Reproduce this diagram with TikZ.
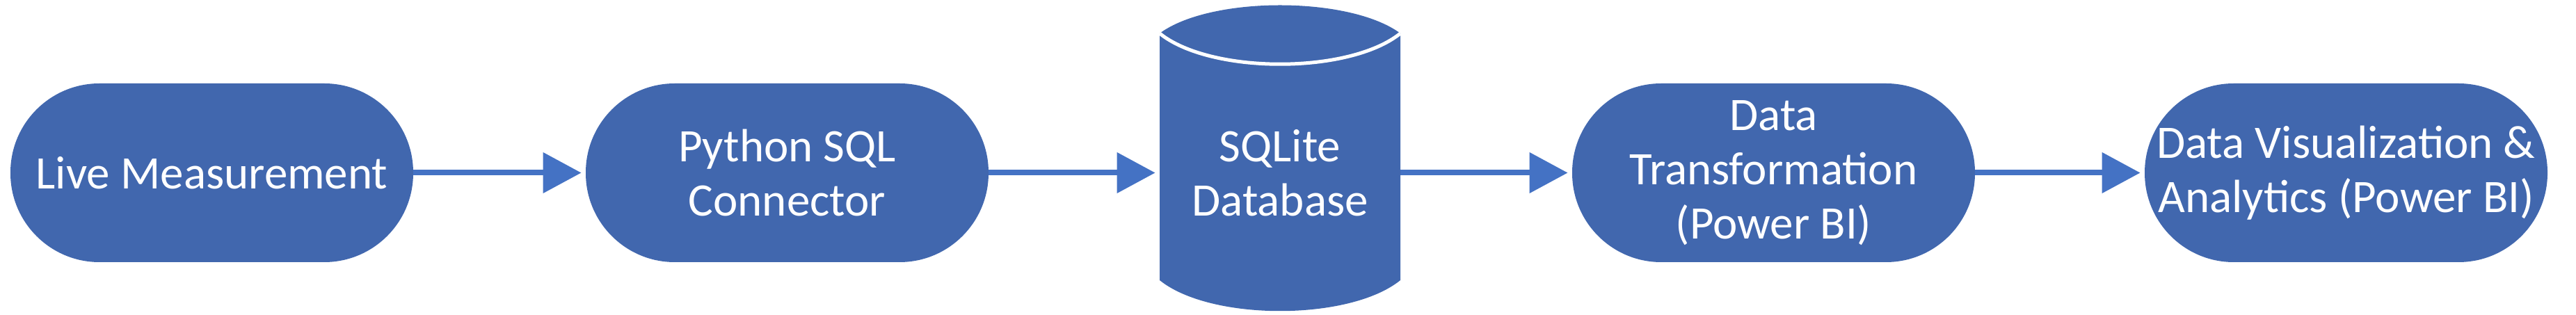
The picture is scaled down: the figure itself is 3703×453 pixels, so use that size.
\documentclass[tikz,border=0pt]{standalone}
\usepackage{fontspec}
\setmainfont{Carlito}
\usetikzlibrary{arrows.meta}
\definecolor{boxblue}{HTML}{4167AE}
\definecolor{arrowblue}{HTML}{4472C4}
\tikzset{
  flowbox/.style={rectangle, rounded corners=64pt, fill=boxblue, text=white,
    minimum width=289.5pt, minimum height=128.5pt, inner sep=0pt, align=center,
    font=\fontsize{33.5}{39}\selectfont},
  dbtext/.style={rectangle, text=white, minimum width=173pt, minimum height=100pt,
    inner sep=0pt, align=center, font=\fontsize{33.5}{39}\selectfont},
  flowarrow/.style={draw=arrowblue, line width=4pt,
    -{Triangle[length=27.5pt,width=28.5pt]}, shorten >=3pt}
}
\begin{document}
\begin{tikzpicture}[x=0.5pt,y=-0.5pt]
\useasboundingbox (0,0) rectangle (3703,453);
% cylinder shape
\fill[boxblue] (1667,48) -- (1667,403) .. controls (1740,462) and (1940,462) .. (2013,403)
  -- (2013,48) .. controls (1940,-6) and (1740,-6) .. cycle;
\draw[white, line width=2.5pt] (1667,48) .. controls (1740,107) and (1940,107) .. (2013,48);
\node[flowbox] (live) at (304.5,248.5) {Live Measurement};
\node[flowbox] (py) at (1131.5,248.5) {Python SQL\\Connector};
\node[dbtext] (db) at (1840,248.5) {SQLite\\Database};
\node[flowbox] (tr) at (2549.5,248.5) {Data\\Transformation\\(Power BI)};
\node[flowbox] (vis) at (3372.5,248.5) {Data Visualization \&\\Analytics (Power BI)};
\draw[flowarrow] (live.east) -- (py.west);
\draw[flowarrow] (py.east) -- (db.west);
\draw[flowarrow] (db.east) -- (tr.west);
\draw[flowarrow] (tr.east) -- (vis.west);
\end{tikzpicture}
\end{document}
